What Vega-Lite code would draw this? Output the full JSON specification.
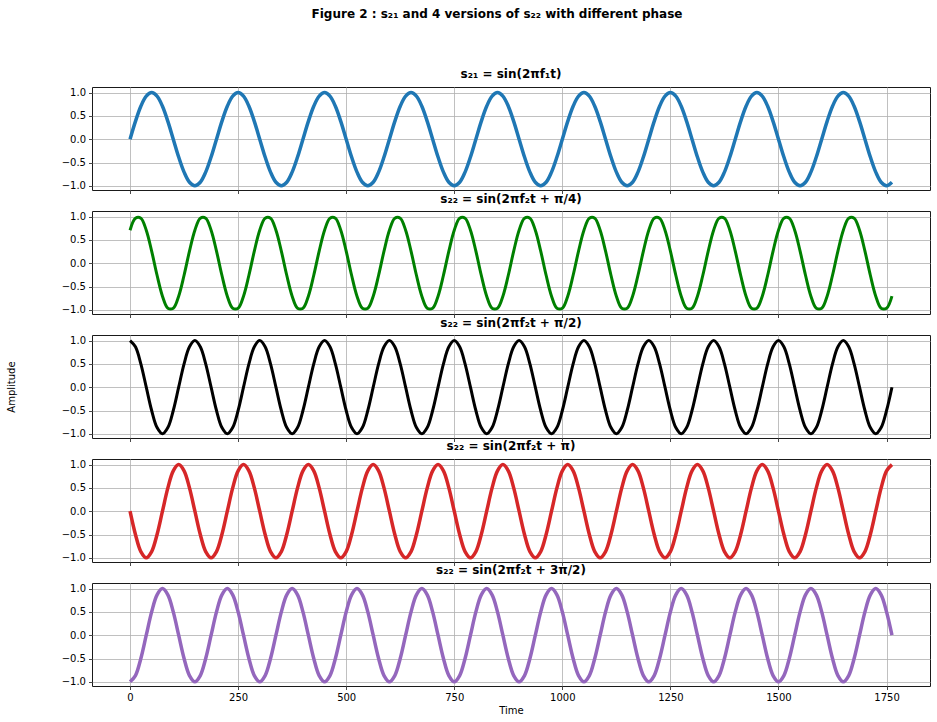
{
  "$schema": "https://vega.github.io/schema/vega-lite/v6.json",
  "background": "white",
  "padding": {"left": 5, "top": 8, "right": 5, "bottom": 5},
  "title": {"text": "Figure 2 : s₂₁ and 4 versions of s₂₂ with different phase", "font": "DejaVu Sans", "fontSize": 12, "fontWeight": "bold", "color": "#000", "anchor": "middle", "frame": "group", "dx": -14, "offset": 46},
  "config": {
    "font": "DejaVu Sans",
    "view": {"stroke": "#1a1a1a", "strokeWidth": 1},
    "axis": {"grid": true, "gridColor": "#b0b0b0", "gridWidth": 0.8, "domain": false, "ticks": true, "tickColor": "#1a1a1a", "tickSize": 3.5, "tickWidth": 0.8, "labelFont": "DejaVu Sans", "labelFontSize": 10, "labelColor": "#000", "labelPadding": 3, "labelFlush": false, "titleFont": "DejaVu Sans", "titleFontSize": 10, "titleFontWeight": "normal", "titleColor": "#000"},
    "title": {"font": "DejaVu Sans", "fontSize": 12, "fontWeight": "bold", "color": "#000", "anchor": "middle", "offset": 5}
  },
  "data": {"values": [
{"t":0,"a":0,"b":0.707,"c":1,"d":0,"e":-1},
{"t":12.5,"a":0.383,"b":0.966,"c":0.866,"d":-0.5,"e":-0.866},
{"t":25,"a":0.707,"b":0.966,"c":0.5,"d":-0.866,"e":-0.5},
{"t":37.5,"a":0.924,"b":0.707,"c":0,"d":-1,"e":0},
{"t":50,"a":1,"b":0.259,"c":-0.5,"d":-0.866,"e":0.5},
{"t":62.5,"a":0.924,"b":-0.259,"c":-0.866,"d":-0.5,"e":0.866},
{"t":75,"a":0.707,"b":-0.707,"c":-1,"d":0,"e":1},
{"t":87.5,"a":0.383,"b":-0.966,"c":-0.866,"d":0.5,"e":0.866},
{"t":100,"a":0,"b":-0.966,"c":-0.5,"d":0.866,"e":0.5},
{"t":112.5,"a":-0.383,"b":-0.707,"c":0,"d":1,"e":0},
{"t":125,"a":-0.707,"b":-0.259,"c":0.5,"d":0.866,"e":-0.5},
{"t":137.5,"a":-0.924,"b":0.259,"c":0.866,"d":0.5,"e":-0.866},
{"t":150,"a":-1,"b":0.707,"c":1,"d":0,"e":-1},
{"t":162.5,"a":-0.924,"b":0.966,"c":0.866,"d":-0.5,"e":-0.866},
{"t":175,"a":-0.707,"b":0.966,"c":0.5,"d":-0.866,"e":-0.5},
{"t":187.5,"a":-0.383,"b":0.707,"c":0,"d":-1,"e":0},
{"t":200,"a":0,"b":0.259,"c":-0.5,"d":-0.866,"e":0.5},
{"t":212.5,"a":0.383,"b":-0.259,"c":-0.866,"d":-0.5,"e":0.866},
{"t":225,"a":0.707,"b":-0.707,"c":-1,"d":0,"e":1},
{"t":237.5,"a":0.924,"b":-0.966,"c":-0.866,"d":0.5,"e":0.866},
{"t":250,"a":1,"b":-0.966,"c":-0.5,"d":0.866,"e":0.5},
{"t":262.5,"a":0.924,"b":-0.707,"c":0,"d":1,"e":0},
{"t":275,"a":0.707,"b":-0.259,"c":0.5,"d":0.866,"e":-0.5},
{"t":287.5,"a":0.383,"b":0.259,"c":0.866,"d":0.5,"e":-0.866},
{"t":300,"a":0,"b":0.707,"c":1,"d":0,"e":-1},
{"t":312.5,"a":-0.383,"b":0.966,"c":0.866,"d":-0.5,"e":-0.866},
{"t":325,"a":-0.707,"b":0.966,"c":0.5,"d":-0.866,"e":-0.5},
{"t":337.5,"a":-0.924,"b":0.707,"c":0,"d":-1,"e":0},
{"t":350,"a":-1,"b":0.259,"c":-0.5,"d":-0.866,"e":0.5},
{"t":362.5,"a":-0.924,"b":-0.259,"c":-0.866,"d":-0.5,"e":0.866},
{"t":375,"a":-0.707,"b":-0.707,"c":-1,"d":0,"e":1},
{"t":387.5,"a":-0.383,"b":-0.966,"c":-0.866,"d":0.5,"e":0.866},
{"t":400,"a":0,"b":-0.966,"c":-0.5,"d":0.866,"e":0.5},
{"t":412.5,"a":0.383,"b":-0.707,"c":0,"d":1,"e":0},
{"t":425,"a":0.707,"b":-0.259,"c":0.5,"d":0.866,"e":-0.5},
{"t":437.5,"a":0.924,"b":0.259,"c":0.866,"d":0.5,"e":-0.866},
{"t":450,"a":1,"b":0.707,"c":1,"d":0,"e":-1},
{"t":462.5,"a":0.924,"b":0.966,"c":0.866,"d":-0.5,"e":-0.866},
{"t":475,"a":0.707,"b":0.966,"c":0.5,"d":-0.866,"e":-0.5},
{"t":487.5,"a":0.383,"b":0.707,"c":0,"d":-1,"e":0},
{"t":500,"a":0,"b":0.259,"c":-0.5,"d":-0.866,"e":0.5},
{"t":512.5,"a":-0.383,"b":-0.259,"c":-0.866,"d":-0.5,"e":0.866},
{"t":525,"a":-0.707,"b":-0.707,"c":-1,"d":0,"e":1},
{"t":537.5,"a":-0.924,"b":-0.966,"c":-0.866,"d":0.5,"e":0.866},
{"t":550,"a":-1,"b":-0.966,"c":-0.5,"d":0.866,"e":0.5},
{"t":562.5,"a":-0.924,"b":-0.707,"c":0,"d":1,"e":0},
{"t":575,"a":-0.707,"b":-0.259,"c":0.5,"d":0.866,"e":-0.5},
{"t":587.5,"a":-0.383,"b":0.259,"c":0.866,"d":0.5,"e":-0.866},
{"t":600,"a":0,"b":0.707,"c":1,"d":0,"e":-1},
{"t":612.5,"a":0.383,"b":0.966,"c":0.866,"d":-0.5,"e":-0.866},
{"t":625,"a":0.707,"b":0.966,"c":0.5,"d":-0.866,"e":-0.5},
{"t":637.5,"a":0.924,"b":0.707,"c":0,"d":-1,"e":0},
{"t":650,"a":1,"b":0.259,"c":-0.5,"d":-0.866,"e":0.5},
{"t":662.5,"a":0.924,"b":-0.259,"c":-0.866,"d":-0.5,"e":0.866},
{"t":675,"a":0.707,"b":-0.707,"c":-1,"d":0,"e":1},
{"t":687.5,"a":0.383,"b":-0.966,"c":-0.866,"d":0.5,"e":0.866},
{"t":700,"a":0,"b":-0.966,"c":-0.5,"d":0.866,"e":0.5},
{"t":712.5,"a":-0.383,"b":-0.707,"c":0,"d":1,"e":0},
{"t":725,"a":-0.707,"b":-0.259,"c":0.5,"d":0.866,"e":-0.5},
{"t":737.5,"a":-0.924,"b":0.259,"c":0.866,"d":0.5,"e":-0.866},
{"t":750,"a":-1,"b":0.707,"c":1,"d":0,"e":-1},
{"t":762.5,"a":-0.924,"b":0.966,"c":0.866,"d":-0.5,"e":-0.866},
{"t":775,"a":-0.707,"b":0.966,"c":0.5,"d":-0.866,"e":-0.5},
{"t":787.5,"a":-0.383,"b":0.707,"c":0,"d":-1,"e":0},
{"t":800,"a":0,"b":0.259,"c":-0.5,"d":-0.866,"e":0.5},
{"t":812.5,"a":0.383,"b":-0.259,"c":-0.866,"d":-0.5,"e":0.866},
{"t":825,"a":0.707,"b":-0.707,"c":-1,"d":0,"e":1},
{"t":837.5,"a":0.924,"b":-0.966,"c":-0.866,"d":0.5,"e":0.866},
{"t":850,"a":1,"b":-0.966,"c":-0.5,"d":0.866,"e":0.5},
{"t":862.5,"a":0.924,"b":-0.707,"c":0,"d":1,"e":0},
{"t":875,"a":0.707,"b":-0.259,"c":0.5,"d":0.866,"e":-0.5},
{"t":887.5,"a":0.383,"b":0.259,"c":0.866,"d":0.5,"e":-0.866},
{"t":900,"a":0,"b":0.707,"c":1,"d":0,"e":-1},
{"t":912.5,"a":-0.383,"b":0.966,"c":0.866,"d":-0.5,"e":-0.866},
{"t":925,"a":-0.707,"b":0.966,"c":0.5,"d":-0.866,"e":-0.5},
{"t":937.5,"a":-0.924,"b":0.707,"c":0,"d":-1,"e":0},
{"t":950,"a":-1,"b":0.259,"c":-0.5,"d":-0.866,"e":0.5},
{"t":962.5,"a":-0.924,"b":-0.259,"c":-0.866,"d":-0.5,"e":0.866},
{"t":975,"a":-0.707,"b":-0.707,"c":-1,"d":0,"e":1},
{"t":987.5,"a":-0.383,"b":-0.966,"c":-0.866,"d":0.5,"e":0.866},
{"t":1000,"a":0,"b":-0.966,"c":-0.5,"d":0.866,"e":0.5},
{"t":1012.5,"a":0.383,"b":-0.707,"c":0,"d":1,"e":0},
{"t":1025,"a":0.707,"b":-0.259,"c":0.5,"d":0.866,"e":-0.5},
{"t":1037.5,"a":0.924,"b":0.259,"c":0.866,"d":0.5,"e":-0.866},
{"t":1050,"a":1,"b":0.707,"c":1,"d":0,"e":-1},
{"t":1062.5,"a":0.924,"b":0.966,"c":0.866,"d":-0.5,"e":-0.866},
{"t":1075,"a":0.707,"b":0.966,"c":0.5,"d":-0.866,"e":-0.5},
{"t":1087.5,"a":0.383,"b":0.707,"c":0,"d":-1,"e":0},
{"t":1100,"a":0,"b":0.259,"c":-0.5,"d":-0.866,"e":0.5},
{"t":1112.5,"a":-0.383,"b":-0.259,"c":-0.866,"d":-0.5,"e":0.866},
{"t":1125,"a":-0.707,"b":-0.707,"c":-1,"d":0,"e":1},
{"t":1137.5,"a":-0.924,"b":-0.966,"c":-0.866,"d":0.5,"e":0.866},
{"t":1150,"a":-1,"b":-0.966,"c":-0.5,"d":0.866,"e":0.5},
{"t":1162.5,"a":-0.924,"b":-0.707,"c":0,"d":1,"e":0},
{"t":1175,"a":-0.707,"b":-0.259,"c":0.5,"d":0.866,"e":-0.5},
{"t":1187.5,"a":-0.383,"b":0.259,"c":0.866,"d":0.5,"e":-0.866},
{"t":1200,"a":0,"b":0.707,"c":1,"d":0,"e":-1},
{"t":1212.5,"a":0.383,"b":0.966,"c":0.866,"d":-0.5,"e":-0.866},
{"t":1225,"a":0.707,"b":0.966,"c":0.5,"d":-0.866,"e":-0.5},
{"t":1237.5,"a":0.924,"b":0.707,"c":0,"d":-1,"e":0},
{"t":1250,"a":1,"b":0.259,"c":-0.5,"d":-0.866,"e":0.5},
{"t":1262.5,"a":0.924,"b":-0.259,"c":-0.866,"d":-0.5,"e":0.866},
{"t":1275,"a":0.707,"b":-0.707,"c":-1,"d":0,"e":1},
{"t":1287.5,"a":0.383,"b":-0.966,"c":-0.866,"d":0.5,"e":0.866},
{"t":1300,"a":0,"b":-0.966,"c":-0.5,"d":0.866,"e":0.5},
{"t":1312.5,"a":-0.383,"b":-0.707,"c":0,"d":1,"e":0},
{"t":1325,"a":-0.707,"b":-0.259,"c":0.5,"d":0.866,"e":-0.5},
{"t":1337.5,"a":-0.924,"b":0.259,"c":0.866,"d":0.5,"e":-0.866},
{"t":1350,"a":-1,"b":0.707,"c":1,"d":0,"e":-1},
{"t":1362.5,"a":-0.924,"b":0.966,"c":0.866,"d":-0.5,"e":-0.866},
{"t":1375,"a":-0.707,"b":0.966,"c":0.5,"d":-0.866,"e":-0.5},
{"t":1387.5,"a":-0.383,"b":0.707,"c":0,"d":-1,"e":0},
{"t":1400,"a":0,"b":0.259,"c":-0.5,"d":-0.866,"e":0.5},
{"t":1412.5,"a":0.383,"b":-0.259,"c":-0.866,"d":-0.5,"e":0.866},
{"t":1425,"a":0.707,"b":-0.707,"c":-1,"d":0,"e":1},
{"t":1437.5,"a":0.924,"b":-0.966,"c":-0.866,"d":0.5,"e":0.866},
{"t":1450,"a":1,"b":-0.966,"c":-0.5,"d":0.866,"e":0.5},
{"t":1462.5,"a":0.924,"b":-0.707,"c":0,"d":1,"e":0},
{"t":1475,"a":0.707,"b":-0.259,"c":0.5,"d":0.866,"e":-0.5},
{"t":1487.5,"a":0.383,"b":0.259,"c":0.866,"d":0.5,"e":-0.866},
{"t":1500,"a":0,"b":0.707,"c":1,"d":0,"e":-1},
{"t":1512.5,"a":-0.383,"b":0.966,"c":0.866,"d":-0.5,"e":-0.866},
{"t":1525,"a":-0.707,"b":0.966,"c":0.5,"d":-0.866,"e":-0.5},
{"t":1537.5,"a":-0.924,"b":0.707,"c":0,"d":-1,"e":0},
{"t":1550,"a":-1,"b":0.259,"c":-0.5,"d":-0.866,"e":0.5},
{"t":1562.5,"a":-0.924,"b":-0.259,"c":-0.866,"d":-0.5,"e":0.866},
{"t":1575,"a":-0.707,"b":-0.707,"c":-1,"d":0,"e":1},
{"t":1587.5,"a":-0.383,"b":-0.966,"c":-0.866,"d":0.5,"e":0.866},
{"t":1600,"a":0,"b":-0.966,"c":-0.5,"d":0.866,"e":0.5},
{"t":1612.5,"a":0.383,"b":-0.707,"c":0,"d":1,"e":0},
{"t":1625,"a":0.707,"b":-0.259,"c":0.5,"d":0.866,"e":-0.5},
{"t":1637.5,"a":0.924,"b":0.259,"c":0.866,"d":0.5,"e":-0.866},
{"t":1650,"a":1,"b":0.707,"c":1,"d":0,"e":-1},
{"t":1662.5,"a":0.924,"b":0.966,"c":0.866,"d":-0.5,"e":-0.866},
{"t":1675,"a":0.707,"b":0.966,"c":0.5,"d":-0.866,"e":-0.5},
{"t":1687.5,"a":0.383,"b":0.707,"c":0,"d":-1,"e":0},
{"t":1700,"a":0,"b":0.259,"c":-0.5,"d":-0.866,"e":0.5},
{"t":1712.5,"a":-0.383,"b":-0.259,"c":-0.866,"d":-0.5,"e":0.866},
{"t":1725,"a":-0.707,"b":-0.707,"c":-1,"d":0,"e":1},
{"t":1737.5,"a":-0.924,"b":-0.966,"c":-0.866,"d":0.5,"e":0.866},
{"t":1750,"a":-1,"b":-0.966,"c":-0.5,"d":0.866,"e":0.5},
{"t":1762.5,"a":-0.924,"b":-0.707,"c":0,"d":1,"e":0}
  ]},
  "bounds": "flush",
  "spacing": 21,
  "vconcat": [
    {
      "width": 838, "height": 103,
      "title": {"text": "s₂₁ = sin(2πf₁t)"},
      "mark": {"type": "line", "color": "#1f77b4", "strokeWidth": 3.5, "interpolate": "catmull-rom"},
      "encoding": {
        "x": {"field": "t", "type": "quantitative", "scale": {"domain": [-88, 1850.5], "nice": false, "zero": false}, "axis": {"values": [0, 250, 500, 750, 1000, 1250, 1500, 1750], "labels": false, "title": null}},
        "y": {"field": "a", "type": "quantitative", "scale": {"domain": [-1.09, 1.12], "nice": false}, "axis": {"values": [-1, -0.5, 0, 0.5, 1], "format": ".1f", "title": null}}
      }
    },
    {
      "width": 838, "height": 103,
      "title": {"text": "s₂₂ = sin(2πf₂t + π/4)"},
      "mark": {"type": "line", "color": "#008000", "strokeWidth": 3, "interpolate": "catmull-rom"},
      "encoding": {
        "x": {"field": "t", "type": "quantitative", "scale": {"domain": [-88, 1850.5], "nice": false, "zero": false}, "axis": {"values": [0, 250, 500, 750, 1000, 1250, 1500, 1750], "labels": false, "title": null}},
        "y": {"field": "b", "type": "quantitative", "scale": {"domain": [-1.09, 1.12], "nice": false}, "axis": {"values": [-1, -0.5, 0, 0.5, 1], "format": ".1f", "title": null}}
      }
    },
    {
      "width": 838, "height": 103,
      "title": {"text": "s₂₂ = sin(2πf₂t + π/2)"},
      "mark": {"type": "line", "color": "#000000", "strokeWidth": 3, "interpolate": "catmull-rom"},
      "encoding": {
        "x": {"field": "t", "type": "quantitative", "scale": {"domain": [-88, 1850.5], "nice": false, "zero": false}, "axis": {"values": [0, 250, 500, 750, 1000, 1250, 1500, 1750], "labels": false, "title": null}},
        "y": {"field": "c", "type": "quantitative", "scale": {"domain": [-1.09, 1.12], "nice": false}, "axis": {"values": [-1, -0.5, 0, 0.5, 1], "format": ".1f", "title": "Amplitude", "titlePadding": 45}}
      }
    },
    {
      "width": 838, "height": 103,
      "title": {"text": "s₂₂ = sin(2πf₂t + π)"},
      "mark": {"type": "line", "color": "#d62728", "strokeWidth": 3.5, "interpolate": "catmull-rom"},
      "encoding": {
        "x": {"field": "t", "type": "quantitative", "scale": {"domain": [-88, 1850.5], "nice": false, "zero": false}, "axis": {"values": [0, 250, 500, 750, 1000, 1250, 1500, 1750], "labels": false, "title": null}},
        "y": {"field": "d", "type": "quantitative", "scale": {"domain": [-1.09, 1.12], "nice": false}, "axis": {"values": [-1, -0.5, 0, 0.5, 1], "format": ".1f", "title": null}}
      }
    },
    {
      "width": 838, "height": 103,
      "title": {"text": "s₂₂ = sin(2πf₂t + 3π/2)"},
      "mark": {"type": "line", "color": "#9467bd", "strokeWidth": 3.5, "interpolate": "catmull-rom"},
      "encoding": {
        "x": {"field": "t", "type": "quantitative", "scale": {"domain": [-88, 1850.5], "nice": false, "zero": false}, "axis": {"values": [0, 250, 500, 750, 1000, 1250, 1500, 1750], "format": "d", "labels": true, "title": "Time", "titlePadding": 3}},
        "y": {"field": "e", "type": "quantitative", "scale": {"domain": [-1.09, 1.12], "nice": false}, "axis": {"values": [-1, -0.5, 0, 0.5, 1], "format": ".1f", "title": null}}
      }
    }
  ]
}
